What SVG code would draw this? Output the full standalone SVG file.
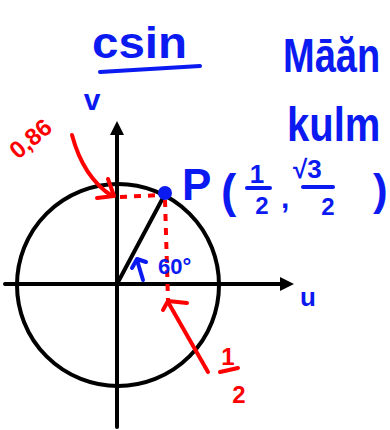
<svg xmlns="http://www.w3.org/2000/svg" width="390" height="430" viewBox="0 0 390 430">
<style>
.k{stroke:#000;stroke-width:4;fill:none;stroke-linecap:round}
.r{stroke:#ff0000;stroke-width:4;fill:none;stroke-linecap:round;stroke-linejoin:round}
.rd{stroke:#ff0000;stroke-width:4;fill:none;stroke-dasharray:7 7}
.b{stroke:#0a1af0;stroke-width:4;fill:none;stroke-linecap:round;stroke-linejoin:round}
.bt{fill:#0a1af0;font-family:"Liberation Sans",Arial,sans-serif;font-weight:bold}
.rt{fill:#ff0000;font-family:"Liberation Sans",Arial,sans-serif;font-weight:bold}
</style>
<rect width="390" height="430" fill="#fff"/>
<g id="title">
<text class="bt" x="92" y="58" font-size="44" textLength="95" lengthAdjust="spacingAndGlyphs">csin</text>
<path class="b" d="M100 72 L200 66" stroke-width="5"/>
</g>
<g id="heading">
<text class="bt" transform="translate(283,72) scale(1,1.25)" font-size="38">Māăn</text>
<text class="bt" transform="translate(287,141) scale(1,1.2)" font-size="40">kulm</text>
</g>
<g id="axes">
<line class="k" x1="5" y1="284" x2="285" y2="284"/>
<polygon points="294,284 280,277 280,291" fill="#000"/>
<line class="k" x1="117" y1="427" x2="117" y2="132"/>
<polygon points="117,121 110,135 124,135" fill="#000"/>
<circle class="k" cx="118" cy="285" r="101"/>
<line class="k" x1="117" y1="284" x2="165" y2="194"/>
</g>
<g id="connectors">
<line class="rd" x1="120" y1="197" x2="162" y2="195"/>
<line class="rd" x1="165" y1="200" x2="168" y2="300"/>
<path class="r" d="M72 135 C80 165 95 185 112 196"/>
<path class="r" d="M97 198 L114 196 L108 179"/>
<line class="r" x1="208" y1="372" x2="168" y2="302"/>
<path class="r" d="M163 310 L168 301 L187 303"/>
<path class="b" d="M143 280 L137 260 M132 268 L137 259 L146 262"/>
</g>
<g id="P">
<circle cx="165" cy="193" r="7" fill="#0a1af0"/>
<text class="bt" x="182" y="200" font-size="44">P</text>
<text class="bt" x="221" y="207" font-size="46">(</text>
<text class="bt" x="257" y="183" font-size="26" text-anchor="middle">1</text>
<line class="b" x1="247" y1="188" x2="270" y2="188"/>
<text class="bt" x="262" y="214" font-size="24" text-anchor="middle">2</text>
<text class="bt" x="281" y="208" font-size="30">,</text>
<text class="bt" x="293" y="178" font-size="26">√3</text>
<line class="b" x1="303" y1="187" x2="333" y2="187"/>
<text class="bt" x="328" y="215" font-size="24" text-anchor="middle">2</text>
<text class="bt" x="373" y="205" font-size="44">)</text>
</g>
<g id="labels">
<text class="bt" x="92" y="110" font-size="30" text-anchor="middle">v</text>
<text class="bt" x="308" y="306" font-size="26" text-anchor="middle">u</text>
<text class="bt" x="158" y="274" font-size="22">60°</text>
<text class="rt" transform="translate(18,160) rotate(-40)" font-size="24">0,86</text>
<text class="rt" x="228" y="365" font-size="24" text-anchor="middle">1</text>
<line class="r" x1="220" y1="372" x2="238" y2="368"/>
<text class="rt" x="239" y="403" font-size="24" text-anchor="middle">2</text>
</g>
</svg>
